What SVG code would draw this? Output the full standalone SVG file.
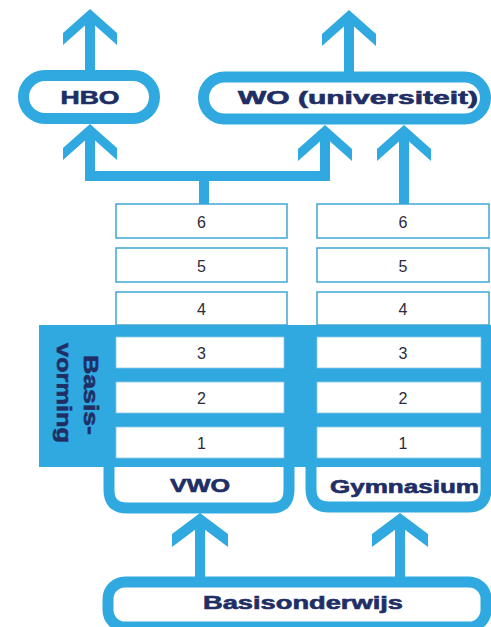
<svg xmlns="http://www.w3.org/2000/svg" width="491" height="627" viewBox="0 0 491 627">
<style>
.bl{fill:#2fa9df}
.pill{fill:#fff;stroke:#2fa9df;stroke-width:11}
.box{fill:#fff;stroke:#3fa6d6;stroke-width:1.5}
.ibox{fill:#fff;stroke:#8fc9e6;stroke-width:0.8}
.u{fill:#fff;stroke:#2fa9df;stroke-width:11}
.lbl{font-family:"Liberation Sans",Arial,sans-serif;font-weight:bold;fill:#1f2f66;stroke:#1f2f66;stroke-width:0.6;text-anchor:middle}
.num{font-family:"Liberation Sans",Arial,sans-serif;font-size:16px;fill:#2b2b3b;text-anchor:middle}
</style>
<rect width="491" height="627" fill="#fff"/>
<g id="connectors">
  <rect class="bl" x="85" y="16" width="10" height="56"/>
  <polygon class="bl" points="90,9 117,33 117,45 90,21 63,45 63,33"/>
  <rect class="bl" x="344" y="17" width="10" height="57"/>
  <polygon class="bl" points="349,10 376,34 376,46 349,22 322,46 322,34"/>
  <rect class="bl" x="85" y="130" width="10" height="51"/>
  <polygon class="bl" points="90,124 117,148 117,160 90,136 63,160 63,148"/>
  <rect class="bl" x="85" y="171" width="245" height="10"/>
  <rect class="bl" x="320" y="130" width="10" height="51"/>
  <polygon class="bl" points="325,125 352,149 352,161 325,137 298,161 298,149"/>
  <rect class="bl" x="199" y="176" width="10" height="29"/>
  <rect class="bl" x="399" y="131" width="10" height="74"/>
  <polygon class="bl" points="404,125 431,149 431,161 404,137 377,161 377,149"/>
  <rect class="bl" x="195" y="520" width="10" height="60"/>
  <polygon class="bl" points="200,513 228,534 228,547 200,526 172,547 172,534"/>
  <rect class="bl" x="395" y="520" width="10" height="60"/>
  <polygon class="bl" points="400,513 428,534 428,547 400,526 372,547 372,534"/>
</g>
<g id="hbo">
  <rect class="pill" x="23.5" y="75.5" width="131" height="43" rx="21.5"/>
  <text class="lbl" x="90" y="104" font-size="17.5" textLength="59" lengthAdjust="spacingAndGlyphs">HBO</text>
</g>
<g id="wo">
  <rect class="pill" x="203.5" y="77" width="282" height="42" rx="21"/>
  <text class="lbl" x="358" y="104" font-size="17.5" textLength="240" lengthAdjust="spacingAndGlyphs">WO (universiteit)</text>
</g>
<g id="basisvorming">
  <rect class="bl" x="39" y="325" width="452" height="142"/>
  <text class="lbl" transform="translate(84,395) rotate(90)" font-size="21" textLength="80" lengthAdjust="spacingAndGlyphs">Basis-</text>
  <text class="lbl" transform="translate(57,393) rotate(90)" font-size="21" textLength="100" lengthAdjust="spacingAndGlyphs">vorming</text>
</g>
<g id="vwo">
  <path class="u" d="M109,467 V490 Q109,508 127,508 H271 Q289,508 289,490 V467"/>
  <text class="lbl" x="200" y="492" font-size="18" textLength="60" lengthAdjust="spacingAndGlyphs">VWO</text>
  <g id="vwo-6"><rect class="box" x="116" y="204" width="171" height="34"/><text class="num" x="201.5" y="227.5">6</text></g>
  <g id="vwo-5"><rect class="box" x="116" y="248" width="171" height="34"/><text class="num" x="201.5" y="271.5">5</text></g>
  <g id="vwo-4"><rect class="box" x="116" y="292" width="171" height="33"/><text class="num" x="201.5" y="315">4</text></g>
  <g id="vwo-3"><rect class="ibox" x="116" y="337" width="168" height="31"/><text class="num" x="201.5" y="358.5">3</text></g>
  <g id="vwo-2"><rect class="ibox" x="116" y="382" width="168" height="31"/><text class="num" x="201.5" y="403.5">2</text></g>
  <g id="vwo-1"><rect class="ibox" x="116" y="427" width="168" height="31"/><text class="num" x="201.5" y="448.5">1</text></g>
</g>
<g id="gymnasium">
  <path class="u" d="M311,467 V489 Q311,507 329,507 H468 Q486,507 486,489 V467"/>
  <text class="lbl" x="404.5" y="493" font-size="18" textLength="149" lengthAdjust="spacingAndGlyphs">Gymnasium</text>
  <g id="gym-6"><rect class="box" x="317" y="204" width="172" height="34"/><text class="num" x="403" y="227.5">6</text></g>
  <g id="gym-5"><rect class="box" x="317" y="248" width="172" height="34"/><text class="num" x="403" y="271.5">5</text></g>
  <g id="gym-4"><rect class="box" x="317" y="292" width="172" height="33"/><text class="num" x="403" y="315">4</text></g>
  <g id="gym-3"><rect class="ibox" x="317" y="337" width="164" height="31"/><text class="num" x="403" y="358.5">3</text></g>
  <g id="gym-2"><rect class="ibox" x="317" y="382" width="164" height="31"/><text class="num" x="403" y="403.5">2</text></g>
  <g id="gym-1"><rect class="ibox" x="317" y="427" width="164" height="31"/><text class="num" x="403" y="448.5">1</text></g>
</g>
<g id="basisonderwijs">
  <rect class="pill" x="108" y="582" width="378" height="45" rx="17" stroke-width="10"/>
  <text class="lbl" x="303" y="609" font-size="18" textLength="200" lengthAdjust="spacingAndGlyphs">Basisonderwijs</text>
</g>
</svg>
